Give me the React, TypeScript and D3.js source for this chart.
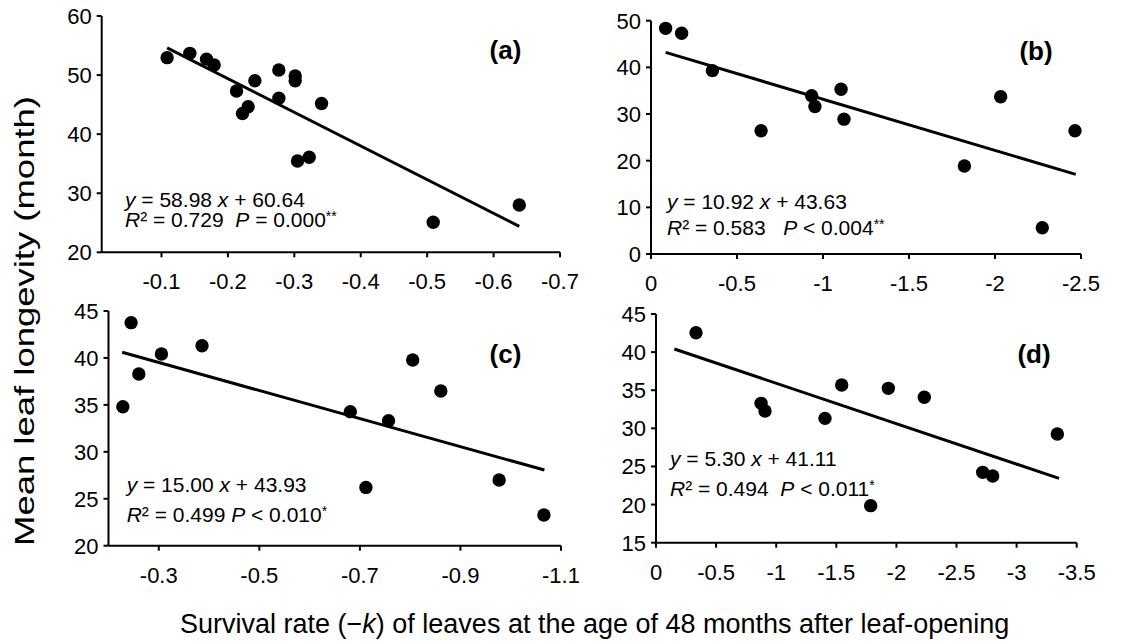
import React from "react";
import * as d3 from "d3";

// ---------- data ----------
const aX = [-0.1085, -0.1427, -0.1678, -0.1793, -0.213, -0.2406, -0.222, -0.2305, -0.2767, -0.2767, -0.3013, -0.3013, -0.341, -0.3048, -0.3224, -0.5091, -0.6387];
const aY = [52.95, 53.68, 52.7, 51.7, 47.3, 49.05, 43.5, 44.65, 50.86, 46.07, 49.85, 49.05, 45.2, 35.46, 36.08, 25.08, 28.0];
const aTrendX = [-0.1085, -0.6387];
const aTrendY = [54.6, 24.4];
const aXTicks = [-0.1, -0.2, -0.3, -0.4, -0.5, -0.6, -0.7];
const aYTicks = [20, 30, 40, 50, 60];

const bX = [-0.085, -0.178, -0.357, -0.64, -0.934, -0.953, -1.105, -1.122, -1.822, -2.033, -2.275, -2.465];
const bY = [48.36, 47.3, 39.3, 26.4, 33.9, 31.6, 35.3, 28.9, 18.86, 33.7, 5.64, 26.4];
const bTrendX = [-0.085, -2.469];
const bTrendY = [43.2, 17.07];
const bXTicks = [0, -0.5, -1, -1.5, -2, -2.5];
const bYTicks = [0, 10, 20, 30, 40, 50];

const cX = [-0.2285, -0.245, -0.2603, -0.3053, -0.386, -0.681, -0.712, -0.757, -0.805, -0.861, -0.977, -1.066];
const cY = [34.8, 43.76, 38.29, 40.42, 41.3, 34.28, 26.21, 33.32, 39.78, 36.48, 27.0, 23.27];
const cTrendX = [-0.2272, -1.067];
const cTrendY = [40.6, 28.06];
const cXTicks = [-0.3, -0.5, -0.7, -0.9, -1.1];
const cYTicks = [20, 25, 30, 35, 40, 45];

const dX = [-0.333, -0.874, -0.907, -1.406, -1.545, -1.786, -1.933, -2.232, -2.718, -2.801, -3.339];
const dY = [42.55, 33.28, 32.28, 31.31, 35.69, 19.86, 35.25, 34.07, 24.23, 23.75, 29.26];
const dTrendX = [-0.1525, -3.353];
const dTrendY = [40.41, 23.44];
const dXTicks = [0, -0.5, -1, -1.5, -2, -2.5, -3, -3.5];
const dYTicks = [15, 20, 25, 30, 35, 40, 45];

const panelLabels = ["(a)", "(b)", "(c)", "(d)"];
const eqSlopes = ["58.98", "10.92", "15.00", "5.30"];
const eqIntercepts = ["60.64", "43.63", "43.93", "41.11"];
const eqR2 = ["0.729", "0.583", "0.499", "0.494"];
const eqP = ["= 0.000", "< 0.004", "< 0.010", "< 0.011"];
const eqStars = ["**", "**", "*", "*"];
const eqGap = ["  ", "   ", " ", "  "];

const yTitle = "Mean leaf longevity (month)";

const FONT = "'Liberation Sans', Arial, Helvetica, sans-serif";

type PanelProps = {
  xs: number[]; ys: number[]; tx: number[]; ty: number[];
  xTicks: number[]; yTicks: number[];
  xDomain: [number, number]; yDomain: [number, number];
  xRange: [number, number]; yRange: [number, number];
  idx: number;
  labelPos: [number, number];
  eqPos: [number, number, number];
};

function fmt(v: number) {
  return v === 0 ? "0" : String(v);
}

function Panel(p: PanelProps) {
  const x = d3.scaleLinear().domain(p.xDomain).range(p.xRange);
  const y = d3.scaleLinear().domain(p.yDomain).range(p.yRange);
  const line = d3.line<number>().x((_, i) => x(p.tx[i])).y((v) => y(v));
  const x0 = p.xRange[0];
  const yb = p.yRange[0];
  return (
    <g>
      <line x1={x0} x2={x0} y1={p.yRange[1]} y2={yb} stroke="#000" strokeWidth={2} />
      <line x1={x0} x2={p.xRange[1]} y1={yb} y2={yb} stroke="#000" strokeWidth={2} />
      {p.yTicks.map((t) => (
        <g key={"y" + t}>
          <line x1={x0 - 5} x2={x0} y1={y(t)} y2={y(t)} stroke="#000" strokeWidth={2} />
          <text x={x0 - 10} y={y(t)} dy="0.36em" textAnchor="end" fontSize={22} fontFamily={FONT}>{fmt(t)}</text>
        </g>
      ))}
      {p.xTicks.map((t) => (
        <g key={"x" + t}>
          <line x1={x(t)} x2={x(t)} y1={yb} y2={yb + 5} stroke="#000" strokeWidth={2} />
          <text x={x(t)} y={yb + 37} textAnchor="middle" fontSize={22} fontFamily={FONT}>{fmt(t)}</text>
        </g>
      ))}
      <path d={line(p.ty) || ""} fill="none" stroke="#000" strokeWidth={3} />
      {p.xs.map((v, i) => (
        <circle key={i} cx={x(v)} cy={y(p.ys[i])} r={6.7} fill="#000" />
      ))}
      <text x={p.labelPos[0]} y={p.labelPos[1]} textAnchor="middle" fontSize={26} fontWeight="bold" fontFamily={FONT}>{panelLabels[p.idx]}</text>
      <text x={p.eqPos[0]} y={p.eqPos[1]} fontSize={21} fontFamily={FONT} style={{ whiteSpace: "pre" }}>
        <tspan fontStyle="italic">y</tspan>
        <tspan>{" = " + eqSlopes[p.idx] + " "}</tspan>
        <tspan fontStyle="italic">x</tspan>
        <tspan>{" + " + eqIntercepts[p.idx]}</tspan>
      </text>
      <text x={p.eqPos[0]} y={p.eqPos[2]} fontSize={21} fontFamily={FONT} style={{ whiteSpace: "pre" }}>
        <tspan fontStyle="italic">R</tspan>
        <tspan>{"² = " + eqR2[p.idx] + eqGap[p.idx]}</tspan>
        <tspan fontStyle="italic">P</tspan>
        <tspan>{" " + eqP[p.idx]}</tspan>
        <tspan fontSize={14} dy={-6}>{eqStars[p.idx]}</tspan>
      </text>
    </g>
  );
}

export default function App() {
  return (
    <svg width={1142} height={644} style={{ position: "absolute", left: 0, top: 0, background: "#fff" }}>
      <rect width={1142} height={644} fill="#fff" />
      <Panel xs={aX} ys={aY} tx={aTrendX} ty={aTrendY} xTicks={aXTicks} yTicks={aYTicks}
        xDomain={[-0.01, -0.7]} yDomain={[20, 60]} xRange={[101.7, 560]} yRange={[252.3, 16]}
        idx={0} labelPos={[505.5, 59]} eqPos={[125, 207, 227]} />
      <Panel xs={bX} ys={bY} tx={bTrendX} ty={bTrendY} xTicks={bXTicks} yTicks={bYTicks}
        xDomain={[0, -2.5]} yDomain={[0, 50]} xRange={[651, 1081]} yRange={[254, 20.7]}
        idx={1} labelPos={[1036, 60]} eqPos={[667, 209, 235]} />
      <Panel xs={cX} ys={cY} tx={cTrendX} ty={cTrendY} xTicks={cXTicks} yTicks={cYTicks}
        xDomain={[-0.2, -1.1]} yDomain={[20, 45]} xRange={[108.5, 561]} yRange={[545.7, 311]}
        idx={2} labelPos={[505.5, 363]} eqPos={[126.7, 492, 522]} />
      <Panel xs={dX} ys={dY} tx={dTrendX} ty={dTrendY} xTicks={dXTicks} yTicks={dYTicks}
        xDomain={[0, -3.5]} yDomain={[15, 45]} xRange={[656, 1076.7]} yRange={[542.7, 314]}
        idx={3} labelPos={[1034, 363]} eqPos={[670, 466, 496]} />
      <text transform="translate(34,321) rotate(-90)" textAnchor="middle" fontSize={28} fontFamily={FONT}
        textLength={450} lengthAdjust="spacingAndGlyphs">{yTitle}</text>
      <text x={180} y={633} fontSize={27} fontFamily={FONT} style={{ whiteSpace: "pre" }}>
        <tspan>Survival rate (−</tspan>
        <tspan fontStyle="italic">k</tspan>
        <tspan>) of leaves at the age of 48 months after leaf-opening</tspan>
      </text>
    </svg>
  );
}
